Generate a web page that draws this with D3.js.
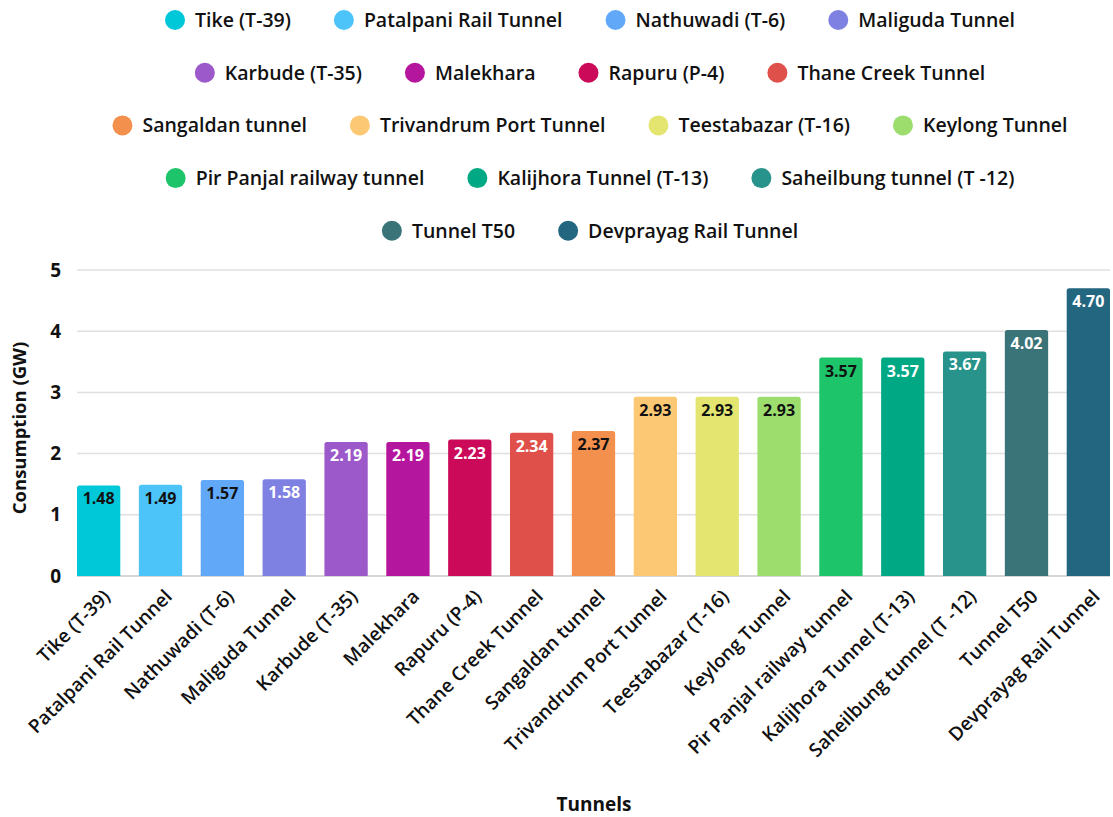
<!DOCTYPE html>
<html>
<head>
<meta charset="utf-8">
<script src="https://cdn.jsdelivr.net/npm/d3@7"></script>
<style>
  body { margin: 0; background: #fff; }
  text { font-family: "Open Sans", "Lato", sans-serif; }
</style>
</head>
<body>
<div id="chart"></div>
<script>
// chart data
var tunnels = ["Tike (T-39)", "Patalpani Rail Tunnel", "Nathuwadi (T-6)", "Maliguda Tunnel",
  "Karbude (T-35)", "Malekhara", "Rapuru (P-4)", "Thane Creek Tunnel", "Sangaldan tunnel",
  "Trivandrum Port Tunnel", "Teestabazar (T-16)", "Keylong Tunnel", "Pir Panjal railway tunnel",
  "Kalijhora Tunnel (T-13)", "Saheilbung tunnel (T -12)", "Tunnel T50", "Devprayag Rail Tunnel"];
var consumption = [1.48, 1.49, 1.57, 1.58, 2.19, 2.19, 2.23, 2.34, 2.37, 2.93, 2.93, 2.93, 3.57, 3.57, 3.67, 4.02, 4.70];
var barColors = ["#00c8d8", "#4cc4fa", "#62a8f8", "#7e80e2", "#9b59c9", "#b5169e", "#cc0a5a", "#e0504a",
  "#f4904e", "#fcc874", "#e3e570", "#9cdd6e", "#1ec46a", "#00a884", "#27938a", "#3b7478", "#236680"];
var labelColors = ["#111", "#111", "#111", "#fff", "#fff", "#fff", "#fff", "#fff",
  "#111", "#111", "#111", "#111", "#111", "#fff", "#fff", "#fff", "#fff"];
var yTicks = [0, 1, 2, 3, 4, 5];

var W = 1113, H = 817;
var svg = d3.select("#chart").append("svg")
  .attr("width", W).attr("height", H);

var x = d3.scaleBand()
  .domain(tunnels)
  .range([77, 1110])
  .paddingInner(0.3)
  .paddingOuter(0);

var y = d3.scaleLinear()
  .domain([0, 5])
  .range([576, 270]);

// grid lines
svg.append("g")
  .selectAll("line")
  .data(yTicks)
  .enter().append("line")
  .attr("x1", 77).attr("x2", 1110)
  .attr("y1", d => y(d)).attr("y2", d => y(d))
  .attr("stroke", d => d === 0 ? "#c8c8c8" : "#e0e0e0")
  .attr("stroke-width", 1.5);

// y axis
var yAxis = svg.append("g")
  .attr("transform", "translate(61,0)")
  .call(d3.axisLeft(y).tickValues(yTicks).tickSize(0).tickPadding(0).tickFormat(d3.format("d")));
yAxis.select(".domain").remove();
yAxis.selectAll("text")
  .style("font-family", "'Open Sans', sans-serif")
  .style("font-size", "19px")
  .style("font-weight", "700")
  .attr("fill", "#111");

svg.append("text")
  .attr("transform", "translate(26,428) rotate(-90)")
  .attr("text-anchor", "middle")
  .style("font-size", "18.5px")
  .style("font-weight", "700")
  .attr("fill", "#111")
  .text("Consumption (GW)");

// bars
var bars = svg.append("g")
  .selectAll("g")
  .data(tunnels)
  .enter().append("g");

bars.append("path")
  .attr("fill", (d, i) => barColors[i])
  .attr("d", function(d, i) {
    var x0 = x(d), w = x.bandwidth(), yt = y(consumption[i]), yb = y(0), r = 2.5;
    return "M" + x0 + "," + yb + "V" + (yt + r) + "Q" + x0 + "," + yt + " " + (x0 + r) + "," + yt +
      "H" + (x0 + w - r) + "Q" + (x0 + w) + "," + yt + " " + (x0 + w) + "," + (yt + r) + "V" + yb + "Z";
  });

bars.append("text")
  .attr("x", d => x(d) + x.bandwidth() / 2)
  .attr("y", (d, i) => y(consumption[i]) + 19)
  .attr("text-anchor", "middle")
  .style("font-size", "16px")
  .style("font-weight", "700")
  .attr("fill", (d, i) => labelColors[i])
  .text((d, i) => consumption[i].toFixed(2));

// x labels
svg.append("g")
  .selectAll("text")
  .data(tunnels)
  .enter().append("text")
  .attr("transform", d => "translate(" + (x(d) + x.bandwidth() / 2 + 8) + ",593) rotate(-45)")
  .attr("text-anchor", "end")
  .attr("dy", "0.35em")
  .style("font-size", "19px")
  .style("font-weight", "600")
  .attr("fill", "#111")
  .text(d => d);

svg.append("text")
  .attr("x", 594).attr("y", 811)
  .attr("text-anchor", "middle")
  .style("font-size", "19px")
  .style("font-weight", "700")
  .attr("fill", "#111")
  .text("Tunnels");

// legend, wrapped into centered rows
var legend = svg.append("g");
var items = legend.selectAll("g")
  .data(tunnels)
  .enter().append("g");
items.append("circle")
  .attr("r", 10)
  .attr("cx", 10)
  .attr("fill", (d, i) => barColors[i]);
items.append("text")
  .attr("x", 30)
  .attr("dy", "0.35em")
  .style("font-size", "19.5px")
  .style("font-weight", "600")
  .attr("fill", "#111")
  .text(d => d);

var maxRow = 1000, gap = 43, rows = [[]], rowW = [0];
items.each(function() {
  var w = 30 + d3.select(this).select("text").node().getComputedTextLength();
  var r = rows.length - 1;
  var add = rows[r].length ? gap + w : w;
  if (rowW[r] + add > maxRow) { rows.push([]); rowW.push(0); r++; add = w; }
  rows[r].push({ node: this, w: w });
  rowW[r] += add;
});
rows.forEach(function(row, r) {
  var cx = 590;
  var xx = cx - rowW[r] / 2;
  row.forEach(function(it) {
    d3.select(it.node).attr("transform", "translate(" + xx + "," + (20 + r * 52.7) + ")");
    xx += it.w + gap;
  });
});
</script>
</body>
</html>
